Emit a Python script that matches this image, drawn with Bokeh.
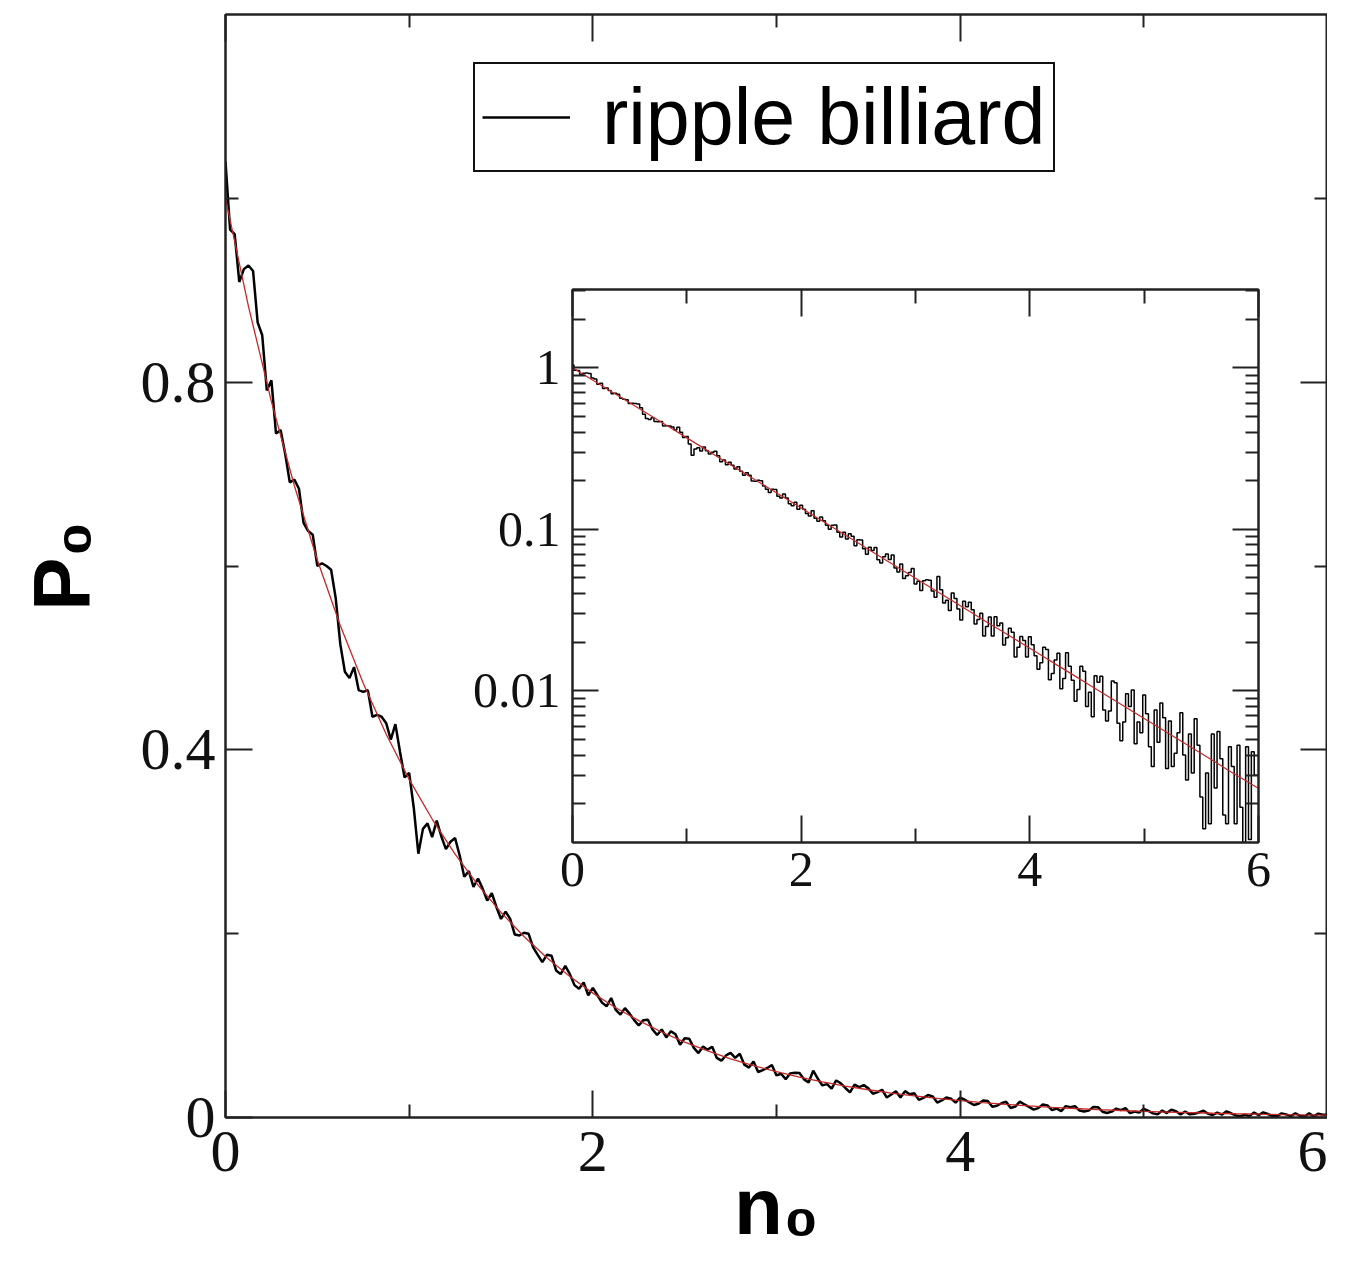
from bokeh.plotting import figure
from bokeh.models import (Range1d, FixedTicker, LinearAxis, LogAxis, CustomJSTickFormatter,
                          Legend, LegendItem)
from bokeh.embed import file_html
from bokeh.resources import INLINE

# ---------------- data ----------------
# histogram of n0, bin width 0.025, from n0 = 0 to 6
p0_hist = [
    1.040, 0.966, 0.961, 0.909, 0.923, 0.927, 0.921, 0.865, 0.851, 0.791,
    0.802, 0.744, 0.748, 0.722, 0.691, 0.694, 0.684, 0.647, 0.638, 0.634,
    0.600, 0.603, 0.600, 0.596, 0.565, 0.515, 0.485, 0.478, 0.490, 0.465,
    0.463, 0.465, 0.436, 0.438, 0.436, 0.429, 0.411, 0.428, 0.398, 0.370,
    0.375, 0.337, 0.287, 0.314, 0.320, 0.305, 0.323, 0.306, 0.292, 0.300,
    0.304, 0.285, 0.262, 0.268, 0.251, 0.260, 0.249, 0.236, 0.244, 0.229,
    0.216, 0.224, 0.216, 0.199, 0.198, 0.201, 0.200, 0.185, 0.177, 0.169,
    0.177, 0.176, 0.160, 0.156, 0.165, 0.156, 0.144, 0.140, 0.147, 0.133,
    0.141, 0.133, 0.125, 0.121, 0.130, 0.117, 0.112, 0.119, 0.113, 0.106,
    0.1001, 0.1059, 0.1063, 0.0958, 0.0897, 0.0958, 0.0871, 0.0938, 0.0906, 0.0791,
    0.0862, 0.0857, 0.0758, 0.0701, 0.0773, 0.0738, 0.0770, 0.0648, 0.0618, 0.0675,
    0.0703, 0.0649, 0.0693, 0.0575, 0.0543, 0.0609, 0.0495, 0.0516, 0.0539, 0.0571,
    0.0458, 0.0476, 0.0417, 0.0480, 0.0487, 0.0483, 0.0415, 0.0380, 0.0510, 0.0422,
    0.0349, 0.0363, 0.0314, 0.0403, 0.0372, 0.0321, 0.0274, 0.0358, 0.0331, 0.0353,
    0.0317, 0.0259, 0.0276, 0.0302, 0.0218, 0.0250, 0.0286, 0.0218, 0.0287, 0.0253,
    0.0263, 0.0192, 0.0213, 0.0244, 0.0230, 0.0162, 0.0186, 0.0217, 0.0205, 0.0162,
    0.0216, 0.0193, 0.0165, 0.0136, 0.0149, 0.0186, 0.0180, 0.0117, 0.0128, 0.0155,
    0.0171, 0.0103, 0.0119, 0.0172, 0.0142, 0.0116, 0.0086, 0.0102, 0.0142, 0.0132,
    0.0080, 0.0098, 0.0069, 0.0124, 0.0113, 0.0123, 0.0076, 0.0065, 0.0075, 0.0115,
    0.0112, 0.0063, 0.0049, 0.0064, 0.0096, 0.0080, 0.0101, 0.0047, 0.0064, 0.0055,
    0.0094, 0.0072, 0.0045, 0.0034, 0.0076, 0.0048, 0.0084, 0.0068, 0.0033, 0.0065,
    0.0034, 0.0041, 0.0055, 0.0073, 0.0040, 0.0028, 0.0054, 0.0031, 0.0067, 0.0046,
    0.0022, 0.0014, 0.0031, 0.0015, 0.0054, 0.0025, 0.0056, 0.0038, 0.0017, 0.0015,
    0.0045, 0.0034, 0.0015, 0.0046, 0.0019, 0.0011, 0.0045, 0.0012, 0.0042, 0.0030,
    0.0030,
]
bin_width = 0.025
n0_hist = [round(i * bin_width, 4) for i in range(len(p0_hist))]

# fitted curve (red), sampled every 0.125
fit_step = 0.125
p0_fit = [
    1.0, 0.8825, 0.7788, 0.6873, 0.6065, 0.5353, 0.4724, 0.4169,
    0.3679, 0.3247, 0.2865, 0.2528, 0.2231, 0.1969, 0.1738, 0.1534,
    0.1353, 0.1194, 0.1054, 0.0930, 0.0821, 0.0724, 0.0639, 0.0564,
    0.0498, 0.0439, 0.0388, 0.0342, 0.0302, 0.0266, 0.0235, 0.0208,
    0.01832, 0.01616, 0.01426, 0.01259, 0.01111, 0.00980, 0.00865, 0.00764,
    0.00674, 0.00595, 0.00525, 0.00463, 0.00409, 0.00361, 0.00318, 0.00281,
    0.00248,
]
n0_fit = [round(i * fit_step, 4) for i in range(len(p0_fit))]

x_major = [0, 2, 4, 6]
x_minor = [1, 3, 5]
y_major = [0, 0.4, 0.8]
y_minor = [0.2, 0.6, 1.0]
log_major = [0.01, 0.1, 1]
log_minor = [0.002, 0.003, 0.004, 0.005, 0.006, 0.007, 0.008, 0.009,
             0.02, 0.03, 0.04, 0.05, 0.06, 0.07, 0.08, 0.09,
             0.2, 0.3, 0.4, 0.5, 0.6, 0.7, 0.8, 0.9, 2, 3]

legend_label = "ripple billiard"

AX = "#222222"
SERIF = "Liberation Serif"
SANS = "Liberation Sans"
RED = "#c62828"

num_fmt = CustomJSTickFormatter(code="return String(Math.round(tick*100000)/100000)")
blank_fmt = CustomJSTickFormatter(code="return ''")


def style_axis(ax, major_in, minor_in, font_size, standoff, labels=True):
    ax.axis_line_color = AX
    ax.axis_line_width = 2
    ax.major_tick_line_color = AX
    ax.minor_tick_line_color = AX
    ax.major_tick_line_width = 2
    ax.minor_tick_line_width = 2
    ax.major_tick_in = major_in
    ax.major_tick_out = 0
    ax.minor_tick_in = minor_in
    ax.minor_tick_out = 0
    ax.major_label_text_font = SERIF
    ax.major_label_text_font_size = font_size
    ax.major_label_text_color = "#111111"
    ax.major_label_standoff = standoff
    if not labels:
        ax.formatter = blank_fmt


# ---------------- main plot ----------------
p = figure(frame_width=1102, frame_height=1103, output_backend="svg", toolbar_location=None,
           x_range=Range1d(0, 6), y_range=Range1d(0, 1.2),
           min_border_left=225, min_border_right=0, min_border_top=14,
           min_border_bottom=159)
p.grid.visible = False
p.outline_line_color = AX
p.outline_line_width = 2
p.background_fill_color = "white"
p.border_fill_color = "white"

r_main = p.line(n0_hist, p0_hist, line_color="black", line_width=2.5)
p.line(n0_fit, p0_fit, line_color=RED, line_width=1.3)

p.xaxis.ticker = FixedTicker(ticks=x_major, minor_ticks=x_minor)
p.yaxis.ticker = FixedTicker(ticks=y_major, minor_ticks=y_minor)
p.xaxis.formatter = num_fmt
p.yaxis.formatter = num_fmt
style_axis(p.xaxis[0], 27, 13, "60px", 14)
style_axis(p.yaxis[0], 27, 13, "60px", 10)
p.xaxis.axis_label = "n₀"
p.yaxis.axis_label = "P₀"
for ax in (p.xaxis[0], p.yaxis[0]):
    ax.axis_label_text_font = SANS
    ax.axis_label_text_font_style = "bold"
    ax.axis_label_text_font_size = "80px"
    ax.axis_label_text_color = "black"
p.xaxis.axis_label_standoff = -12
p.yaxis.axis_label_standoff = 32

top_ax = LinearAxis(ticker=FixedTicker(ticks=x_major, minor_ticks=x_minor))
right_ax = LinearAxis(ticker=FixedTicker(ticks=y_major, minor_ticks=y_minor))
style_axis(top_ax, 27, 13, "1px", 0, labels=False)
style_axis(right_ax, 27, 13, "1px", 0, labels=False)
p.add_layout(top_ax, "above")
p.add_layout(right_ax, "right")

legend = Legend(items=[LegendItem(label=legend_label, renderers=[r_main])],
                location=(248, 945))
legend.label_text_font = SANS
legend.label_text_font_size = "79px"
legend.label_text_color = "black"
legend.glyph_width = 88
legend.glyph_height = 40
legend.label_standoff = 32
legend.padding = 7
legend.spacing = 0
legend.margin = 0
legend.border_line_color = "#111111"
legend.border_line_alpha = 1
legend.border_line_width = 2
legend.background_fill_color = "white"
legend.background_fill_alpha = 1
p.add_layout(legend)

# ---------------- inset (log scale) ----------------
q = figure(frame_width=686, frame_height=553, output_backend="svg", toolbar_location=None,
           x_range=Range1d(0, 6), y_range=Range1d(0.00115, 3.05),
           y_axis_type="log",
           min_border_left=110, min_border_right=30, min_border_top=10,
           min_border_bottom=70,
           styles={"position": "absolute", "left": "462px", "top": "279px"})
q.grid.visible = False
q.outline_line_color = AX
q.outline_line_width = 2
q.background_fill_color = "white"
q.border_fill_alpha = 0

q.step(n0_hist, p0_hist, mode="center", line_color="black", line_width=1.5)
q.line(n0_fit, p0_fit, line_color=RED, line_width=1.2)

q.xaxis.ticker = FixedTicker(ticks=x_major, minor_ticks=x_minor)
q.yaxis.ticker = FixedTicker(ticks=log_major, minor_ticks=log_minor)
q.xaxis.formatter = num_fmt
q.yaxis.formatter = num_fmt
style_axis(q.xaxis[0], 27, 14, "50px", 10)
style_axis(q.yaxis[0], 26, 13, "50px", 12)

q_top = LinearAxis(ticker=FixedTicker(ticks=x_major, minor_ticks=x_minor))
q_right = LogAxis(ticker=FixedTicker(ticks=log_major, minor_ticks=log_minor))
style_axis(q_top, 27, 14, "1px", 0, labels=False)
style_axis(q_right, 26, 13, "1px", 0, labels=False)
q.add_layout(q_top, "above")
q.add_layout(q_right, "right")

open("out.html", "w").write(file_html((p, q), INLINE))
